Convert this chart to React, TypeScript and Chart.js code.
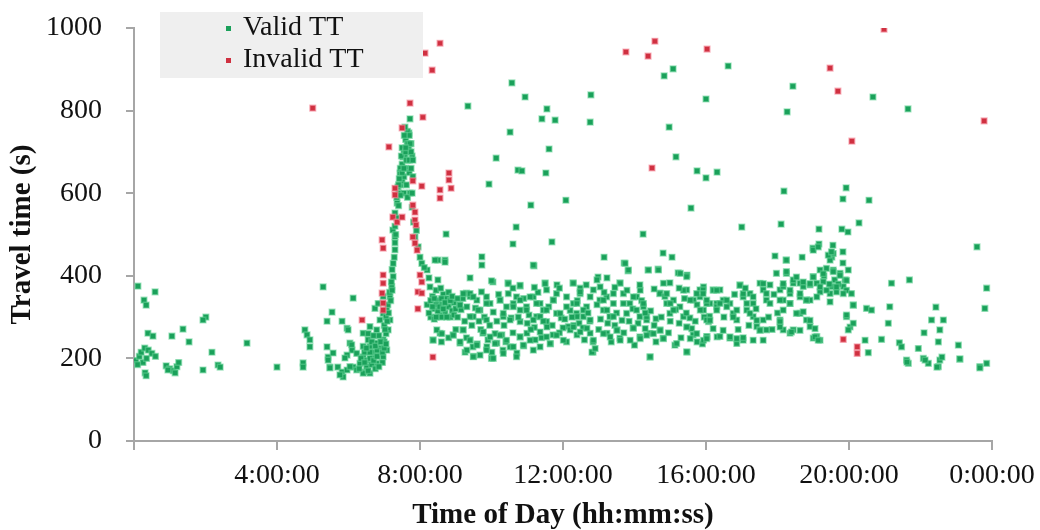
import React, { useEffect, useRef } from "react";
import { Chart, registerables } from "chart.js";

Chart.register(...registerables);

// [hour of day, travel time (s)]
const validNight: [number, number][] = [
  [0.11, 375], [0.59, 361], [0.28, 341], [0.34, 329], [2.01, 300], [1.93, 293], [1.37, 271], [0.39, 261],
  [0.53, 254], [1.06, 254], [1.54, 240], [3.16, 237], [0.05, 195], [0.15, 205], [0.2, 215], [0.3, 225],
  [0.4, 220], [0.5, 212], [0.6, 205], [0.25, 190], [0.1, 185], [0.35, 200], [2.18, 215], [0.9, 182],
  [1.0, 175], [1.1, 170], [1.2, 180], [1.25, 190], [1.15, 165], [0.95, 172], [1.93, 172], [2.35, 184],
  [2.41, 179], [0.31, 165], [0.34, 158], [4.0, 179], [4.73, 189], [4.73, 179], [4.78, 269], [4.84, 257],
  [4.92, 245], [4.92, 228], [5.29, 373], [5.54, 312], [5.4, 290], [6.13, 346], [5.82, 290], [5.96, 273],
  [5.99, 269], [5.4, 228], [5.43, 203], [5.48, 179], [5.57, 213], [5.7, 179], [5.82, 167], [5.85, 155],
  [6.04, 237], [6.1, 220], [5.96, 208], [5.9, 201], [5.76, 160], [5.96, 172], [6.13, 179], [6.46, 167],
  [6.52, 177], [5.48, 177], [5.43, 196],
];

const validAmPeak: [number, number][] = [
  [6.41, 204], [6.6, 229], [6.79, 237], [6.97, 245], [6.69, 204], [6.88, 212], [7.07, 220], [6.32, 188],
  [6.51, 180], [6.79, 188], [6.23, 172], [6.41, 164], [6.04, 180], [6.6, 164], [6.97, 204], [7.11, 269],
  [7.16, 293], [7.07, 317], [7.16, 350], [7.21, 374], [7.25, 398], [7.25, 430], [7.3, 463], [7.3, 495],
  [6.6, 277], [6.79, 269], [6.41, 261], [6.97, 309], [6.88, 293], [6.74, 321], [6.83, 333], [6.97, 350],
  [6.41, 229], [6.23, 212], [6.09, 233], [6.5, 195], [6.7, 215], [6.9, 225], [7.0, 240], [6.55, 245],
  [6.85, 255], [6.65, 185], [6.95, 190], [7.05, 260], [6.75, 175], [6.45, 215], [6.6, 200], [6.8, 220],
  [7.0, 280], [7.05, 300], [7.1, 330], [7.15, 360], [7.2, 385], [7.22, 415], [7.28, 445], [7.3, 480],
  [6.3, 175], [6.35, 200], [6.45, 190], [6.55, 170], [6.6, 215], [6.65, 240], [6.7, 195], [6.75, 230],
  [6.8, 205], [6.85, 180], [6.9, 240], [6.95, 215], [7.0, 225], [7.05, 235], [6.5, 225], [6.55, 260],
  [6.7, 255], [7.02, 270], [7.08, 290], [7.12, 310], [7.18, 340], [7.22, 365],
  [7.24, 511], [7.3, 552], [7.36, 576], [7.38, 615], [7.44, 649], [7.52, 688], [7.64, 721], [7.69, 746],
  [7.72, 780], [7.35, 590], [7.4, 600], [7.45, 620], [7.5, 630], [7.55, 640], [7.6, 660], [7.65, 680],
  [7.7, 700], [7.75, 720], [7.5, 670], [7.55, 700], [7.6, 730], [7.65, 750], [7.7, 740], [7.45, 660],
  [7.5, 710], [7.58, 690], [7.68, 710], [7.78, 690], [7.4, 570], [7.55, 600], [7.62, 620], [7.7, 650],
  [7.75, 660], [7.72, 600], [7.65, 590], [7.42, 635], [7.48, 690], [7.58, 760], [7.8, 640], [7.78, 600],
  [7.3, 520], [7.35, 540], [7.32, 500], [7.4, 620], [7.45, 595], [7.5, 650], [7.55, 660], [7.6, 700],
  [7.62, 680], [7.66, 720], [7.7, 680], [7.72, 720], [7.75, 700], [7.8, 680], [7.56, 740], [7.6, 710],
  [7.78, 566], [7.86, 494], [8.0, 445], [8.2, 414], [8.28, 373], [7.82, 530], [7.9, 510], [7.95, 470],
  [8.05, 430], [8.12, 420], [8.25, 395],
];

const validMorningBlob: [number, number][] = [
  [8.3, 300], [8.4, 320], [8.5, 340], [8.6, 330], [8.7, 310], [8.8, 325], [8.9, 315], [8.35, 350],
  [8.45, 365], [8.55, 305], [8.65, 355], [8.75, 345], [8.85, 300], [8.95, 335], [8.2, 330], [8.25, 310],
  [8.4, 295], [8.6, 300], [8.8, 360], [9.0, 320], [8.5, 390], [8.58, 370], [9.1, 330], [9.2, 345],
  [9.3, 358], [9.4, 350], [8.5, 438], [8.7, 438], [8.73, 501], [8.42, 438], [8.7, 433], [9.4, 395],
  [8.3, 340], [8.4, 345], [8.45, 330], [8.5, 315], [8.55, 325], [8.6, 345], [8.65, 320], [8.7, 335],
  [8.75, 300], [8.85, 340], [8.35, 325], [8.45, 300], [8.9, 350], [8.95, 305], [9.05, 345],
];

const validMidday: [number, number][] = [
  [10.57, 867], [9.34, 811], [10.52, 748], [10.13, 685], [9.93, 622], [10.69, 518], [10.6, 477], [9.73, 446],
  [9.73, 426], [10.74, 656], [10.94, 833], [11.55, 804], [11.41, 780], [11.78, 777], [12.78, 838], [12.76, 772],
  [15.08, 901], [14.83, 884], [16.0, 828], [14.97, 760], [11.61, 707], [15.16, 688], [10.85, 654], [11.52, 649],
  [15.75, 654], [16.0, 637], [11.1, 571], [12.08, 583], [15.58, 564], [11.69, 482], [11.19, 424], [14.24, 501],
  [13.15, 445], [14.8, 455], [15.05, 445], [13.71, 431], [13.82, 412], [14.38, 414], [14.66, 416], [15.22, 407],
  [15.47, 402], [10.04, 385], [10.46, 383], [10.8, 375], [11.5, 383], [11.83, 378], [12.28, 383], [12.48, 370],
  [12.98, 397], [13.23, 395], [13.59, 383], [14.71, 358], [14.99, 383], [15.83, 366], [11.17, 426],
  [9.4, 357], [9.59, 341], [9.86, 349], [9.68, 317], [9.96, 333], [9.49, 301], [10.24, 341], [10.42, 325],
  [10.61, 333], [10.8, 317], [10.33, 301], [10.7, 349], [10.98, 325], [11.17, 349], [11.36, 333], [11.54, 366],
  [11.45, 317], [11.73, 341], [11.82, 309], [11.26, 301], [12.1, 349], [12.29, 333], [12.48, 357], [12.38, 309],
  [12.66, 325], [12.57, 301], [12.85, 366], [13.03, 341], [13.22, 349], [13.13, 317], [13.41, 333], [13.31, 301],
  [13.69, 357], [13.87, 333], [13.78, 309], [14.06, 349], [14.25, 325], [14.15, 301], [14.34, 293], [14.71, 357],
  [14.9, 333], [15.09, 341], [14.99, 309], [15.27, 325], [15.37, 301], [15.46, 366], [15.65, 341], [15.83, 349],
  [15.93, 317], [16.11, 333], [16.2, 366], [16.3, 333],
  [9.15, 318], [9.55, 322], [9.8, 300], [10.05, 312], [10.2, 355], [10.55, 298], [10.9, 345], [11.05, 305],
  [11.3, 360], [11.6, 325], [11.95, 298], [12.2, 316], [12.4, 340], [12.75, 290], [12.95, 330], [13.15, 360],
  [13.5, 310], [13.65, 292], [13.95, 320], [14.2, 340], [14.45, 315], [14.6, 296], [14.85, 350], [15.15, 318],
  [15.4, 345], [15.55, 298], [15.75, 330], [16.1, 302],
];

const validMiddayUpper: [number, number][] = [
  [9.21, 357], [9.49, 349], [9.72, 361], [9.86, 333], [9.63, 317], [9.4, 301], [9.86, 293], [10.24, 341],
  [10.47, 357], [10.61, 325], [10.8, 341], [10.98, 317], [10.33, 309], [10.52, 293], [11.08, 349], [11.26, 333],
  [11.36, 301], [11.54, 317], [11.73, 341], [11.82, 357], [11.92, 309], [12.1, 325], [12.15, 277], [10.8, 289],
  [11.17, 293], [11.54, 289], [9.12, 329], [9.31, 325], [10.0, 388], [10.47, 381], [10.8, 377], [11.5, 381],
  [12.29, 382], [12.48, 361], [12.39, 333], [12.57, 317], [12.76, 349], [12.95, 390], [13.04, 373], [13.13, 341],
  [13.23, 317], [13.41, 357], [13.6, 382], [13.69, 333], [13.79, 365], [13.97, 349], [14.06, 317], [14.16, 365],
  [14.25, 333], [14.34, 301], [13.74, 430], [13.83, 414], [14.39, 414], [14.67, 414], [14.81, 382], [14.9, 357],
  [15.0, 333], [15.09, 317], [15.28, 406], [15.46, 398], [15.37, 365], [15.56, 341], [15.74, 357], [15.84, 317],
  [15.93, 373], [16.02, 333], [16.21, 365], [16.3, 325], [13.41, 301], [12.76, 293], [12.39, 301],
  [9.05, 300], [9.25, 290], [9.45, 280], [9.65, 290], [9.95, 280], [10.15, 290], [10.35, 280], [10.75, 300],
  [11.0, 285], [11.2, 275], [11.45, 290], [11.7, 280], [12.05, 295], [12.25, 300], [12.45, 285], [12.7, 310],
  [13.05, 295], [13.25, 285], [13.45, 280], [13.85, 290], [14.1, 285], [14.3, 310], [14.55, 280], [14.75, 300],
  [15.0, 290], [15.25, 285], [15.45, 310], [15.7, 290], [15.95, 300], [10.6, 370], [11.2, 372], [11.9, 370],
  [12.65, 378], [13.45, 372], [14.15, 378], [14.55, 368], [15.25, 370],
];

const validMiddayLower: [number, number][] = [
  [8.36, 245], [8.56, 261], [8.93, 257], [9.2, 269], [9.12, 237], [9.4, 245], [9.26, 215], [9.48, 228],
  [9.76, 261], [9.87, 228], [10.01, 215], [10.15, 237], [10.29, 257], [10.32, 220], [10.52, 228], [10.71, 213],
  [10.8, 252], [10.99, 261], [11.22, 245], [11.36, 228], [11.55, 276], [11.72, 257], [12.0, 274], [12.2, 269],
  [12.39, 257], [12.56, 274], [12.76, 261], [12.84, 240], [12.84, 215], [13.23, 261], [13.51, 269], [13.59, 249],
  [13.96, 274], [14.15, 252], [14.43, 261], [14.43, 203], [14.71, 269], [14.8, 249], [15.13, 232], [15.47, 276],
  [15.47, 215], [15.64, 257], [15.75, 240], [16.03, 252], [16.31, 252],
  [9.3, 250], [9.6, 235], [9.9, 245], [10.1, 260], [10.4, 240], [10.6, 262], [10.9, 230], [11.1, 270],
  [11.4, 250], [11.65, 235], [11.9, 262], [12.1, 240], [12.3, 280], [12.6, 245], [13.0, 270], [13.35, 240],
  [13.7, 262], [14.0, 232], [14.3, 272], [14.6, 240], [14.95, 262], [15.3, 250], [15.6, 272], [15.9, 235],
  [9.0, 270], [8.8, 250], [8.6, 240], [9.5, 205], [10.0, 200], [9.7, 270], [12.81, 215],
  [8.47, 269], [8.61, 260], [8.37, 244], [8.93, 256], [9.21, 269], [9.12, 240], [9.4, 244], [9.59, 232],
  [9.31, 220], [9.49, 204], [9.77, 264], [9.96, 252], [10.1, 236], [9.86, 220], [10.24, 256], [10.42, 244],
  [10.33, 212], [10.61, 228], [10.8, 252], [10.89, 232], [11.08, 244], [11.17, 220], [11.36, 264], [11.54, 252],
  [11.64, 236], [11.82, 256], [12.01, 244], [10.7, 204], [10.05, 200], [9.68, 208],
  [12.29, 276], [12.48, 264], [12.67, 273], [12.85, 244], [12.9, 224], [13.13, 260], [13.32, 252], [13.51, 268],
  [13.6, 244], [13.97, 273], [13.88, 244], [14.16, 248], [14.34, 256], [14.53, 260], [14.72, 268], [14.81, 248],
  [15.18, 236], [15.46, 276], [15.56, 248], [15.74, 260], [15.93, 244], [16.07, 289], [15.46, 216], [14.44, 204],
];

const validEvening: [number, number][] = [
  [16.31, 651], [16.62, 908], [18.43, 859], [18.27, 797], [20.67, 833], [21.65, 804], [18.18, 605], [19.92, 613],
  [19.83, 586], [20.56, 583], [17.0, 518], [18.1, 525], [19.16, 513], [20.28, 528], [19.8, 513], [19.97, 506],
  [23.58, 470], [17.93, 448], [18.24, 438], [18.69, 445], [18.99, 467], [19.16, 477], [19.55, 474], [19.52, 445],
  [19.83, 458], [19.83, 431], [19.98, 414], [19.47, 438], [19.0, 462], [19.56, 454], [19.14, 470],
  [19.0, 398], [19.19, 414], [19.37, 418], [19.56, 414], [19.75, 406], [19.89, 390], [19.84, 374], [19.65, 361],
  [19.47, 357], [19.19, 361], [18.91, 378], [19.1, 382], [19.28, 386], [19.51, 374], [19.93, 365], [20.07, 357],
  [19.3, 400], [19.6, 390], [19.45, 380], [19.7, 380],
  [18.25, 406], [18.44, 390], [18.63, 382], [18.72, 374], [18.16, 374], [18.35, 357], [18.63, 349], [18.91, 341],
  [17.97, 406], [19.42, 450], [19.51, 458], [18.25, 438],
  [18.25, 410], [18.53, 397], [18.72, 385], [18.91, 381], [18.16, 381], [18.35, 365], [18.63, 357], [18.07, 341],
  [18.35, 333], [18.16, 317], [18.53, 309], [18.81, 341], [19.0, 397], [19.28, 405], [19.56, 410], [19.75, 401],
  [19.93, 389], [19.19, 373], [19.37, 365], [19.65, 373], [19.84, 357], [19.1, 349], [19.47, 337],
  [18.07, 289], [18.07, 276], [18.39, 264], [18.63, 268], [18.91, 292], [19.05, 272], [18.72, 313], [19.05, 252],
  [19.14, 244], [19.93, 301], [20.03, 276], [20.12, 329],
];

const validAfternoon: [number, number][] = [
  [15.92, 366], [16.02, 341], [16.39, 366], [16.48, 341], [16.67, 333], [16.95, 378], [17.04, 349], [17.23, 357],
  [17.32, 333], [17.51, 382], [17.6, 366], [17.69, 341], [17.79, 378], [18.07, 366], [18.16, 341], [18.35, 333],
  [18.44, 382], [18.81, 341], [16.02, 293], [16.3, 317], [16.58, 325], [16.76, 309], [16.86, 293], [17.14, 317],
  [17.32, 301], [17.42, 277], [17.6, 293], [17.69, 269], [18.07, 293], [18.16, 269], [18.44, 269], [18.63, 309],
  [18.81, 293], [18.91, 277], [19.1, 253], [19.19, 244], [19.0, 249], [16.02, 253], [16.39, 253], [16.67, 249],
  [16.86, 236], [17.04, 244], [17.32, 244], [17.51, 269], [18.35, 261],
  [15.92, 357], [16.3, 365], [16.39, 333], [16.58, 341], [16.11, 292], [16.2, 272], [16.48, 268], [16.67, 252],
  [16.76, 300], [16.86, 317], [16.95, 377], [17.04, 357], [17.14, 333], [17.23, 309], [17.32, 349], [17.42, 292],
  [17.51, 268], [17.6, 381], [17.69, 357], [17.79, 333], [17.6, 244], [17.04, 250], [16.86, 248], [16.02, 248],
  [16.5, 300], [16.9, 270], [17.2, 280], [17.4, 320], [17.75, 300], [17.85, 270], [18.0, 310], [17.1, 370],
  [16.8, 355], [17.9, 355],
];

const validNightLate: [number, number][] = [
  [21.19, 382], [21.69, 390], [23.85, 370], [23.8, 321], [20.12, 329], [20.49, 321], [20.63, 317], [21.14, 325],
  [19.93, 305], [20.12, 285], [19.98, 269], [21.1, 285], [22.43, 324], [22.31, 293], [22.64, 293], [22.1, 262],
  [22.54, 269], [22.5, 240], [20.45, 244], [20.54, 214], [20.91, 246], [21.41, 238], [21.47, 228], [21.94, 224],
  [23.06, 232], [21.61, 196], [21.66, 188], [22.08, 200], [22.22, 188], [22.54, 196], [22.5, 180], [23.1, 198],
  [23.66, 180], [23.85, 188], [21.62, 191], [22.13, 196], [22.46, 179], [22.6, 203], [23.1, 199], [23.66, 177],
];

const invalidTT: [number, number][] = [
  [5.0, 806], [7.72, 818], [8.08, 784], [7.5, 758], [7.13, 712], [8.14, 939], [8.56, 963], [8.34, 898],
  [7.8, 630], [8.05, 617], [7.3, 612], [7.3, 596], [8.56, 608], [8.56, 588], [8.81, 649], [8.81, 632],
  [8.87, 612], [7.24, 542], [7.36, 530], [7.5, 542], [7.8, 571], [7.86, 554], [7.86, 535], [7.89, 523],
  [7.8, 494], [7.86, 479], [7.92, 462], [6.94, 487], [6.97, 467], [6.97, 402], [6.97, 382], [6.94, 358],
  [6.97, 334], [6.97, 317], [8.0, 402], [8.05, 385], [7.94, 361], [8.05, 358], [7.94, 320], [8.36, 203],
  [6.38, 293], [13.76, 942], [14.38, 932], [14.57, 968], [16.03, 949], [20.98, 997], [19.47, 903], [19.69, 847],
  [20.08, 726], [23.78, 775], [14.49, 661], [19.84, 246], [20.23, 228], [20.23, 212],
];

const seriesNames = ["Valid TT", "Invalid TT"];
const xTickValues = [0, 4, 8, 12, 16, 20, 24];
const xTickLabels = ["", "4:00:00", "8:00:00", "12:00:00", "16:00:00", "20:00:00", "0:00:00"];
const yTicks = [0, 200, 400, 600, 800, 1000];

const FONT = "'Liberation Serif', 'Times New Roman', serif";
const GREEN = "#1aa05a";
const GREEN_EDGE = "rgba(100,210,150,0.55)";
const RED = "#cf3040";
const RED_EDGE = "rgba(245,140,155,0.6)";

const toPts = (arr: [number, number][]) => arr.map(([x, y]) => ({ x, y }));

const legendPlugin = {
  id: "boxLegend",
  afterDraw(chart: any) {
    const ctx = chart.ctx;
    ctx.save();
    ctx.fillStyle = "#efefef";
    ctx.fillRect(160, 12, 263, 66);
    const items = [
      { label: chart.data.datasets[1].label, color: GREEN, y: 28 },
      { label: chart.data.datasets[0].label, color: RED, y: 60 },
    ];
    ctx.font = `28px ${FONT}`;
    ctx.textBaseline = "middle";
    ctx.textAlign = "left";
    for (const it of items) {
      ctx.fillStyle = it.color;
      ctx.fillRect(226, it.y - 2, 5, 5);
      ctx.fillStyle = "#111";
      ctx.fillText(it.label, 243, it.y);
    }
    ctx.restore();
  },
};

export default function App() {
  const ref = useRef<HTMLCanvasElement | null>(null);
  useEffect(() => {
    if (!ref.current) return;
    const valid = [
      ...validNight, ...validAmPeak, ...validMorningBlob, ...validMidday, ...validMiddayUpper,
      ...validMiddayLower, ...validAfternoon, ...validEvening, ...validNightLate,
    ];
    const chart = new Chart(ref.current, {
      type: "scatter",
      data: {
        datasets: [
          {
            label: seriesNames[1],
            data: toPts(invalidTT),
            backgroundColor: RED,
            borderColor: RED_EDGE,
            borderWidth: 1.5,
            pointStyle: "rect",
            pointRadius: 4,
            order: 0,
          },
          {
            label: seriesNames[0],
            data: toPts(valid),
            backgroundColor: GREEN,
            borderColor: GREEN_EDGE,
            borderWidth: 1.5,
            pointStyle: "rect",
            pointRadius: 4,
            order: 1,
          },
        ],
      },
      options: {
        animation: false,
        responsive: true,
        maintainAspectRatio: false,
        layout: { padding: { left: 0, top: 28, right: 48, bottom: 0 } },
        plugins: { legend: { display: false }, tooltip: { enabled: false } },
        scales: {
          x: {
            type: "linear",
            min: 0,
            max: 24,
            afterFit: (s: any) => { s.height = 89; s.paddingLeft = 0; s.paddingRight = 0; },
            afterBuildTicks: (s: any) => { s.ticks = xTickValues.map((v) => ({ value: v })); },
            ticks: {
              color: "#111",
              font: { family: FONT, size: 28 },
              padding: 9,
              maxRotation: 0,
              autoSkip: false,
              callback: (_v: any, i: number) => xTickLabels[i],
            },
            grid: { drawOnChartArea: false, drawTicks: true, tickLength: 9, color: "#a6a6a6", lineWidth: 2 },
            border: { color: "#a6a6a6", width: 2 },
            title: {
              display: true,
              text: "Time of Day (hh:mm:ss)",
              color: "#111",
              font: { family: FONT, size: 29, weight: "bold", lineHeight: 1 },
              padding: { top: 0, bottom: 0 },
            },
          },
          y: {
            type: "linear",
            min: 0,
            max: 1000,
            afterFit: (s: any) => { s.width = 134; s.paddingTop = 0; s.paddingBottom = 0; },
            afterBuildTicks: (s: any) => { s.ticks = yTicks.map((v) => ({ value: v })); },
            ticks: {
              color: "#111",
              font: { family: FONT, size: 28 },
              padding: 24,
              callback: (v: any) => String(v),
            },
            grid: { drawOnChartArea: false, drawTicks: true, tickLength: 8, color: "#a6a6a6", lineWidth: 2 },
            border: { color: "#a6a6a6", width: 2 },
            title: {
              display: true,
              text: "Travel time (s)",
              color: "#111",
              font: { family: FONT, size: 29, weight: "bold", lineHeight: 1 },
              padding: { top: 8, bottom: 0 },
            },
          },
        },
      },
      plugins: [legendPlugin],
    });
    return () => chart.destroy();
  }, []);
  return (
    <div style={{ position: "fixed", left: 0, top: 0, width: 1040, height: 530, background: "#fff" }}>
      <canvas ref={ref} />
    </div>
  );
}
